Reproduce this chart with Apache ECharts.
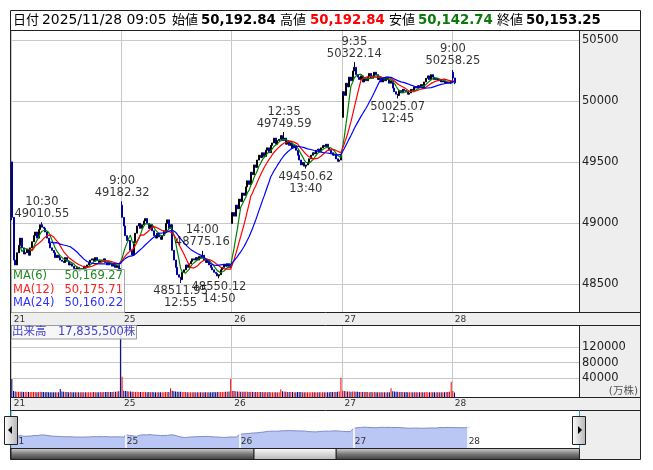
<!DOCTYPE html>
<html>
<head>
<meta charset="utf-8">
<script src="https://cdn.jsdelivr.net/npm/echarts@6/dist/echarts.min.js"></script>
<style>
  html, body { margin: 0; padding: 0; background: #fff; }
  #chart { width: 653px; height: 470px; }
</style>
</head>
<body>
<div id="chart"></div>
<script>
// 日経平均 5分足 (11/21〜11/28)
const days = ['21', '25', '26', '27', '28'];
const BARS = 66; // 9:00-11:25, 12:30-15:25
const dayOpen = [49505, 49150, 49000, 49870, 50240];

const close21 = [49050, 48700, 48660, 48760, 48820, 48880, 48800, 48750, 48760, 48790,
  48740, 48800, 48850, 48900, 48930, 48880, 48950, 48990, 48970, 48960,
  48930, 48880, 48840, 48800, 48780, 48760, 48720, 48740, 48720, 48700,
  48690, 48680, 48720, 48690, 48660, 48670, 48650, 48630, 48620, 48640,
  48610, 48630, 48620, 48650, 48640, 48660, 48680, 48700, 48710, 48690,
  48720, 48700, 48680, 48700, 48690, 48710, 48680, 48660, 48680, 48670,
  48650, 48670, 48640, 48660, 48630, 48626];
const close25 = [49050, 48980, 48900, 48860, 48860, 48780, 48740, 48850, 48920, 48980,
  49000, 48960, 48990, 49020, 49040, 49000, 48960, 48990, 48940, 48900,
  48880, 48920, 48890, 48870, 48900, 48940, 49000, 49030, 48960, 48990,
  48780, 48700, 48640, 48580, 48560, 48540, 48600, 48620, 48660, 48640,
  48670, 48690, 48710, 48700, 48720, 48700, 48730, 48720, 48740, 48700,
  48680, 48700, 48660, 48640, 48620, 48600, 48590, 48570, 48580, 48620,
  48640, 48660, 48650, 48670, 48640, 48659];
const close26 = [49090, 49060, 49150, 49120, 49200, 49180, 49250, 49230, 49300, 49350,
  49320, 49420, 49400, 49480, 49460, 49520, 49560, 49540, 49580, 49550,
  49600, 49620, 49580, 49640, 49660, 49700, 49650, 49680, 49690, 49720,
  49680, 49700, 49650, 49670, 49640, 49660, 49620, 49640, 49600, 49560,
  49520, 49480, 49500, 49470, 49480, 49500, 49530, 49560, 49580, 49570,
  49600, 49610, 49590, 49620, 49640, 49630, 49650, 49620, 49600, 49580,
  49560, 49570, 49530, 49510, 49520, 49559];
const close27 = [50080, 50050, 50150, 50120, 50200, 50170, 50250, 50280, 50220, 50200,
  50180, 50210, 50160, 50190, 50170, 50200, 50230, 50190, 50210, 50240,
  50220, 50180, 50200, 50160, 50190, 50170, 50200, 50180, 50150, 50170,
  50110, 50080, 50060, 50050, 50090, 50070, 50100, 50090, 50080, 50060,
  50070, 50100, 50090, 50120, 50110, 50130, 50120, 50140, 50110, 50160,
  50190, 50210, 50180, 50220, 50200, 50180, 50190, 50170, 50180, 50160,
  50170, 50150, 50160, 50150, 50150, 50167];
const close28 = [50192.84, 50153.25];

// 注記付きの高値・安値 [bar index, price]
const highMarks = [[18, 49010.55], [66, 49182.32], [114, 48775.16], [163, 49749.59], [205, 50322.14], [264, 50258.25]];
const lowMarks = [[101, 48511.95], [124, 48550.12], [176, 49450.62], [231, 50025.07]];
const wickLows = [[0, 49027], [264, 50150], [265, 50142.74]];

// 出来高 (万株)
const vol21 = [37000, 6000, 4500, 4000, 3800, 3500, 3900, 3200, 3000, 3400,
  2900, 3100, 2800, 3300, 3000, 2700, 3100, 3600, 3300, 2900,
  2600, 2800, 2500, 2700, 2400, 2600, 2300, 2500, 2700, 11000,
  4500, 3500, 3000, 2800, 2600, 2900, 2500, 2700, 2400, 2600,
  2300, 2500, 2400, 2600, 2300, 2500, 2700, 2400, 2600, 2800,
  2500, 2700, 2600, 2900, 2700, 3000, 2800, 3100, 2900, 3300,
  3200, 3500, 3800, 4200, 5000, 165000];
const vol25 = [43000, 6500, 5500, 5000, 4200, 4600, 4000, 3600, 3300, 3500,
  3100, 2900, 3200, 2800, 3000, 2700, 2900, 2600, 2800, 2500,
  2700, 2400, 2600, 2300, 2500, 2700, 2900, 3200, 3000, 12700,
  6500, 5000, 4200, 3800, 3500, 3600, 3200, 3000, 2800, 2600,
  2700, 2500, 2600, 2400, 2500, 2300, 2500, 2400, 2600, 2500,
  2700, 2400, 2600, 2500, 2700, 2800, 2600, 2900, 2800, 3000,
  2900, 3200, 3400, 3700, 4500, 37000];
const vol26 = [6000, 5500, 5000, 4600, 4200, 4000, 3800, 3600, 3900, 3500,
  3200, 3400, 3100, 3300, 3000, 3200, 2900, 3100, 2800, 2700,
  2900, 2600, 2800, 2500, 2700, 2600, 2400, 2500, 2700, 10000,
  5200, 4300, 3600, 3200, 3000, 2800, 2900, 2700, 2600, 2900,
  3100, 2800, 2600, 2700, 2500, 2400, 2600, 2500, 2300, 2400,
  2600, 2400, 2300, 2500, 2400, 2600, 2500, 2700, 2600, 2800,
  2900, 3100, 3300, 3600, 4300, 40000];
const vol27 = [6500, 5800, 5000, 4500, 4300, 4000, 4200, 4600, 3800, 3500,
  3200, 3000, 3300, 2900, 2800, 3000, 2700, 2900, 2600, 2800,
  2500, 2700, 2400, 2600, 2500, 2300, 2500, 2400, 2600, 12700,
  5000, 4200, 3700, 3500, 3200, 3000, 2800, 2700, 2900, 2600,
  2500, 2700, 2400, 2600, 2300, 2500, 2400, 2300, 2500, 2600,
  2800, 2700, 2500, 2700, 2600, 2400, 2500, 2300, 2500, 2400,
  2600, 2700, 2900, 3200, 3900, 30000];
const vol28 = [6000, 1783.55];

const priceTicks = [48500, 49000, 49500, 50000, 50500];
const volTicks = [40000, 80000, 120000];
const maLegend = [['MA(6)', '50,169.27', '#228822'], ['MA(12)', '50,175.71', '#ff2020'], ['MA(24)', '50,160.22', '#3030ff']];

const FONT = "'DejaVu Sans', 'Noto Sans CJK JP', sans-serif";
const UP = '#000000', DOWN = '#0000a0', VUP = '#ff0000', VDOWN = '#000080';

const closes = [].concat(close21, close25, close26, close27, close28);
const vols = [].concat(vol21, vol25, vol26, vol27, vol28);
const n = closes.length;

// bar times
const slotTimes = [];
for (let m = 540; m < 690; m += 5) slotTimes.push(m);
for (let m = 750; m < 930; m += 5) slotTimes.push(m);
const fmtTime = m => Math.floor(m / 60) + ':' + String(m % 60).padStart(2, '0');
const times = closes.map((c, i) => fmtTime(slotTimes[i % BARS]));
const cats = times.concat(new Array(340 - n).fill(''));
const navCats = times.concat(new Array(329 - n).fill(''));

const ohlc = closes.map((c, i) => {
  const o = i % BARS === 0 ? dayOpen[i / BARS] : closes[i - 1];
  return [o, c, Math.min(o, c), Math.max(o, c)];
});
highMarks.forEach(([i, v]) => { ohlc[i][3] = v; });
lowMarks.forEach(([i, v]) => { ohlc[i][2] = v; });
wickLows.forEach(([i, v]) => { ohlc[i][2] = v; });

function movingAvg(k) {
  return closes.map((c, i) => {
    if (i < k - 1) return '-';
    let s = 0;
    for (let j = i - k + 1; j <= i; j++) s += closes[j];
    return +(s / k).toFixed(2);
  });
}

const volData = vols.map((v, i) => {
  const prev = i === 0 ? dayOpen[0] : closes[i - 1];
  return { value: v, itemStyle: { color: closes[i] >= prev ? VUP : VDOWN } };
});

const isDayStart = i => i % BARS === 0 && i < n;

function dayAxis(grid, data, extra) {
  return Object.assign({
    type: 'category', gridIndex: grid, data: data, boundaryGap: true,
    axisLine: { show: false }, axisTick: { show: false },
    axisLabel: {
      interval: isDayStart, formatter: (v, i) => days[i / BARS],
      align: 'left', padding: [0, 0, 0, 2], margin: 2,
      fontSize: 9, color: '#333', fontFamily: FONT
    },
    splitLine: { show: true, interval: isDayStart, lineStyle: { color: '#c8c8c8', width: 1 } }
  }, extra || {});
}

function line(x1, y1, x2, y2, color) {
  return { type: 'line', z: 50, silent: true, shape: { x1, y1, x2, y2 }, style: { stroke: color || '#222', lineWidth: 1 } };
}
function rect(x, y, w, h, style, z) {
  return { type: 'rect', z: z === undefined ? 60 : z, silent: true, shape: { x, y, width: w, height: h }, style: style };
}
function text(x, y, str, opt) {
  return {
    type: 'text', z: 70, silent: true, x: x, y: y,
    style: Object.assign({
      text: str, fill: '#000', fontSize: 11.5, fontFamily: FONT,
      textAlign: 'left', textVerticalAlign: 'middle', verticalAlign: 'middle'
    }, opt || {})
  };
}
const darkBar = () => new echarts.graphic.LinearGradient(0, 0, 0, 1, [
  { offset: 0, color: '#d8d8d8' }, { offset: 0.5, color: '#7a7a7a' }, { offset: 1, color: '#3a3a3a' }]);
const lightKnob = (h) => new echarts.graphic.LinearGradient(0, 0, h ? 1 : 0, h ? 0 : 1, [
  { offset: 0, color: '#ffffff' }, { offset: 1, color: '#b4b4b4' }]);

const graphics = [
  // gray panels
  rect(579.5, 30.5, 61, 429, { fill: '#eeeeee' }, -10),
  rect(10.5, 312.5, 630, 13, { fill: '#eeeeee' }, -10),
  rect(10.5, 397.5, 630, 13, { fill: '#eeeeee' }, -10),
  // frame
  rect(10.5, 10.5, 630, 449, { fill: 'none', stroke: '#222', lineWidth: 1 }, 50),
  line(10.5, 30.5, 640.5, 30.5),
  line(10.5, 312.5, 640.5, 312.5),
  line(10.5, 325.5, 640.5, 325.5),
  line(10.5, 397.5, 640.5, 397.5),
  line(10.5, 410.5, 640.5, 410.5),
  line(579.5, 30.5, 579.5, 312.5),
  line(579.5, 325.5, 579.5, 397.5),
  line(11, 410.5, 11, 448, '#2a9fd6'),
  line(579.5, 410.5, 579.5, 448, '#2a9fd6'),
  // header
  text(13, 20.5, '日付', { fontSize: 13 }),
  text(42, 20.5, '2025/11/28 09:05', { fontSize: 13.9 }),
  text(172, 20.5, '始値', { fontSize: 13 }),
  text(201, 20.5, '50,192.84', { fontSize: 13.3, fontWeight: 'bold' }),
  text(280, 20.5, '高値', { fontSize: 13 }),
  text(310, 20.5, '50,192.84', { fontSize: 13.3, fontWeight: 'bold', fill: '#ff0000' }),
  text(389, 20.5, '安値', { fontSize: 13 }),
  text(418, 20.5, '50,142.74', { fontSize: 13.3, fontWeight: 'bold', fill: '#0a7a0a' }),
  text(497, 20.5, '終値', { fontSize: 13 }),
  text(526, 20.5, '50,153.25', { fontSize: 13.3, fontWeight: 'bold' }),
  // MA legend
  rect(11.5, 269.5, 113, 43, { fill: 'rgba(255,255,255,0.72)', stroke: '#a8a8a8', lineWidth: 1 }),
  // volume legend
  rect(11.5, 325.5, 125, 13.5, { fill: 'rgba(246,246,246,0.9)', stroke: '#999', lineWidth: 1 }),
  text(12, 332.5, '出来高', { fontSize: 11.5, fill: '#4444cc' }),
  text(58, 332.5, '17,835,500株', { fontSize: 11.5, fill: '#4444cc' }),
  text(638, 391, '(万株)', { fontSize: 10.5, fill: '#555', textAlign: 'right' }),
  // scrollbar
  rect(11, 448.5, 243, 11, { fill: darkBar(), stroke: '#222', lineWidth: 1 }),
  rect(336, 448.5, 243.5, 11, { fill: darkBar(), stroke: '#222', lineWidth: 1 }),
  rect(254, 448.5, 82, 11, { fill: lightKnob(false), stroke: '#222', lineWidth: 1 }),
  // navigator handles
  rect(4.5, 416.5, 13, 28, { fill: lightKnob(true), stroke: '#222', lineWidth: 1 }, 80),
  rect(572.5, 416.5, 13, 28, { fill: lightKnob(true), stroke: '#222', lineWidth: 1 }, 80),
  { type: 'polygon', z: 81, silent: true, shape: { points: [[12, 426], [12, 434], [8, 430]] }, style: { fill: '#000' } },
  { type: 'polygon', z: 81, silent: true, shape: { points: [[578, 426], [578, 434], [582, 430]] }, style: { fill: '#000' } }
];
maLegend.forEach(([name, val, color], k) => {
  graphics.push(text(13, 276.5 + k * 13.5, name, { fill: color }));
  graphics.push(text(123, 276.5 + k * 13.5, val, { fill: color, textAlign: 'right' }));
});

const markLabel = { show: true, color: '#000', fontSize: 11.5, fontFamily: FONT, lineHeight: 12, distance: 2 };
const plain = v => String(v);

const option = {
  animation: false,
  backgroundColor: '#ffffff',
  grid: [
    { left: 11, top: 31, width: 568, height: 282, outerBoundsMode: 'none' },
    { left: 11, top: 325, width: 568, height: 72, outerBoundsMode: 'none' },
    { left: 11, top: 413, width: 568, height: 35, outerBoundsMode: 'none' }
  ],
  xAxis: [
    dayAxis(0, cats),
    dayAxis(1, cats),
    dayAxis(2, navCats, {
      z: 10,
      axisLabel: {
        interval: isDayStart, formatter: (v, i) => days[i / BARS], inside: true,
        align: 'left', padding: [0, 0, 0, 1], margin: 2, fontSize: 9, color: '#333', fontFamily: FONT
      },
      splitLine: { show: false }
    })
  ],
  yAxis: [
    {
      type: 'value', gridIndex: 0, position: 'right', min: 48266, max: 50578,
      axisLine: { show: false }, axisTick: { show: false, customValues: priceTicks },
      axisLabel: { customValues: priceTicks, formatter: plain, color: '#222', fontSize: 11.5, fontFamily: FONT, margin: 3 },
      splitLine: { show: true, lineStyle: { color: '#c8c8c8', width: 1 } }
    },
    {
      type: 'value', gridIndex: 1, position: 'right', min: -10000, max: 178235, startValue: -10000,
      axisLine: { show: false }, axisTick: { show: false, customValues: volTicks },
      axisLabel: { customValues: volTicks, formatter: plain, color: '#222', fontSize: 11.5, fontFamily: FONT, margin: 3 },
      splitLine: { show: true, lineStyle: { color: '#c8c8c8', width: 1 } }
    },
    { type: 'value', gridIndex: 2, min: 46850, max: 52560, show: false, splitLine: { show: false } }
  ],
  series: [
    {
      type: 'candlestick', xAxisIndex: 0, yAxisIndex: 0, data: ohlc, barWidth: 1.5, z: 3,
      itemStyle: { color: UP, color0: DOWN, borderColor: UP, borderColor0: DOWN, borderWidth: 1 }
    },
    { type: 'line', xAxisIndex: 0, yAxisIndex: 0, data: movingAvg(6), symbol: 'none', z: 4, lineStyle: { color: '#008000', width: 1.2 } },
    { type: 'line', xAxisIndex: 0, yAxisIndex: 0, data: movingAvg(12), symbol: 'none', z: 4, lineStyle: { color: '#ff0000', width: 1.2 } },
    { type: 'line', xAxisIndex: 0, yAxisIndex: 0, data: movingAvg(24), symbol: 'none', z: 4, lineStyle: { color: '#0000ff', width: 1.2 } },
    {
      type: 'scatter', xAxisIndex: 0, yAxisIndex: 0, symbol: 'circle', symbolSize: 1, silent: true, z: 6,
      itemStyle: { color: 'rgba(0,0,0,0)' },
      label: Object.assign({ position: 'top' }, markLabel),
      data: highMarks.map(([i, v]) => ({ value: [i, v], label: { formatter: times[i] + '\n' + v.toFixed(2) } }))
    },
    {
      type: 'scatter', xAxisIndex: 0, yAxisIndex: 0, symbol: 'circle', symbolSize: 1, silent: true, z: 6,
      itemStyle: { color: 'rgba(0,0,0,0)' },
      label: Object.assign({ position: 'bottom' }, markLabel),
      data: lowMarks.map(([i, v]) => ({ value: [i, v], label: { formatter: v.toFixed(2) + '\n' + times[i] } }))
    },
    { type: 'bar', xAxisIndex: 1, yAxisIndex: 1, data: volData, barWidth: 1 },
    {
      type: 'line', xAxisIndex: 2, yAxisIndex: 2, data: closes, symbol: 'none', z: 1,
      lineStyle: { color: '#7f8ccc', width: 1 }, areaStyle: { color: '#bac6f4', opacity: 1 },
      markLine: {
        silent: true, symbol: ['none', 'none'], label: { show: false },
        lineStyle: { color: '#ffffff', width: 1.5, type: 'solid' },
        data: [66, 132, 198, 264].map(i => ({ xAxis: i }))
      }
    }
  ],
  graphic: { elements: graphics }
};

const chart = echarts.init(document.getElementById('chart'), null, { renderer: 'canvas' });
chart.setOption(option);
</script>
</body>
</html>
